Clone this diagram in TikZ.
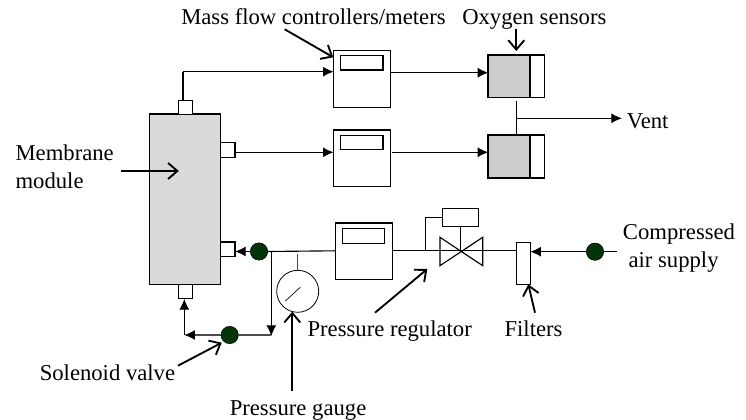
\documentclass[tikz,border=0pt]{standalone}
\usepackage{fontspec}
\setmainfont{Liberation Serif}
\usepackage{tikz}
\usetikzlibrary{arrows.meta}
\definecolor{valvegreen}{RGB}{5,51,10}
\tikzset{
  pipe/.style={line width=0.85pt},
  feed/.style={pipe,-{Latex[length=8pt,width=7.5pt,black]}},
  pointer/.style={line width=1.4pt,-{Straight Barb[length=7pt,width=12pt]}},
  label/.style={font=\fontsize{17}{19}\selectfont,inner sep=0pt,anchor=base west},
  unit/.style={draw,line width=0.85pt,inner sep=0pt,outer sep=0pt,minimum width=#1},
  port/.style={unit=10.7pt,minimum height=10.7pt,fill=white},
  flowbox/.style={unit=42.5pt,minimum height=42.5pt,fill=white},
  readout/.style={unit=32pt,minimum height=10.7pt},
  sensor/.style={unit=31.5pt,minimum height=32pt,fill=black!20,line width=1.3pt},
  sensorend/.style={unit=10.7pt,minimum height=32pt,fill=white,line width=1.3pt},
  shutoff/.style={circle,draw,line width=0.4pt,fill=valvegreen,inner sep=0pt,outer sep=0pt,minimum size=13pt}
}
\begin{document}
\begin{tikzpicture}[x=0.75pt,y=-0.75pt]
\useasboundingbox (0,0) rectangle (746,420);

% membrane module and its ports
\node [unit=53.5pt,minimum height=127.7pt,fill=black!15] (membrane) at (185,199.2) {};
\node [port] (porttop) at (185.5,107.4) {};
\node [port] (portone) at (227.9,150) {};
\node [port] (porttwo) at (227.9,249.2) {};
\node [port] (portbottom) at (185.5,291.8) {};

% flow controllers
\node [flowbox] (mfcone) at (362,78.9) {};
\node [flowbox] (mfctwo) at (362,158.4) {};
\node [flowbox] (mfcthree) at (364,251.4) {};
\node [readout] (readone) at (361.7,62.9) {};
\node [readout] (readtwo) at (361.7,142.5) {};
\node [readout,unit=31.7pt] (readthree) at (363.2,236) {};

% sensors
\node [sensor] (sensorone) at (509.3,76.2) {};
\node [sensorend,anchor=west] (sensoroneend) at (sensorone.east) {};
\node [sensor] (sensortwo) at (509.3,156.7) {};
\node [sensorend,anchor=west] (sensortwoend) at (sensortwo.east) {};

% regulator
\coordinate (valvemid) at (461.3,251);
\node [unit=26.7pt,minimum height=13.3pt] (actuator) at (460.5,217.8) {};
\draw [pipe] (440,237.3) -- (482.7,265.7) -- (482.7,237.3) -- (440,265.7) -- cycle;
\draw [pipe] (actuator.south) -- (actuator.south |- valvemid);
\coordinate (bypass) at (425.3,251);
\draw [pipe] (bypass) |- (actuator.west);

% filter
\node [unit=10.5pt,minimum height=31.5pt,fill=white] (filter) at (523.3,263.3) {};

% gauge
\node [circle,draw,line width=0.6pt,inner sep=0pt,outer sep=0pt,minimum size=31.5pt] (gauge) at (297.7,291.3) {};
\coordinate (gaugetop) at (297.7,254.3);
\coordinate (needlea) at (285.3,301);
\coordinate (needleb) at (300.3,287.3);
\draw [pipe,black!70] (gaugetop) -- (gauge.north);
\draw [line width=0.5pt] (needlea) -- (needleb);

% shut-off valves
\node [shutoff] (valveleft) at (259,251.5) {};
\node [shutoff] (valvelow) at (229.7,335) {};
\node [shutoff] (valveright) at (595,251.7) {};

% flow lines
\coordinate (topbend) at (183,71.7);
\draw [pipe] (porttop.north -| topbend) -- (topbend);
\draw [feed] (topbend) -- (topbend -| mfcone.west);
\draw [feed] (portone.east |- 0,152.3) -- (mfctwo.west |- 0,152.3);
\coordinate (outone) at (390.3,72.7);
\draw [feed] (outone) -- (outone -| sensorone.west);
\coordinate (outtwo) at (392,152.3);
\draw [feed] (outtwo) -- (outtwo -| sensortwo.west);
\coordinate (ventjoin) at (516.3,118.3);
\coordinate (ventend) at (622,118.3);
\draw [pipe] (ventjoin |- sensorone.south) ++(0,3) -- (ventjoin |- sensortwo.north);
\draw [feed] (ventjoin) -- (ventend);

\coordinate (mainjoin) at (271.3,250.8);
\coordinate (lowjoin) at (271.3,336);
\coordinate (lowbend) at (184.3,335);
\coordinate (supply) at (616.7,251.7);
\draw [pipe] (valveleft.east) -- (mfcthree.west |- mainjoin);
\draw [pipe] (mfcthree.east |- mainjoin) -- (filter.west |- mainjoin);
\draw [feed] (valveleft.west) -- (porttwo.east |- valveleft.west);
\draw [feed] (mainjoin) -- (lowjoin);
\draw [pipe,black!70] (valvelow.east) -- (valvelow.east -| lowjoin);
\draw [feed,black!70] (valvelow.west) -- (lowbend);
\draw [feed] (lowbend) -- (lowbend |- portbottom.south);
\draw [pipe] (supply) -- (valveright.east);
\draw [feed] (valveright.west) -- (filter.east |- valveright.west);

% labels
\draw (181,25) node[label] (massflow) {Mass flow controllers/meters};
\draw (462,25) node[label] (oxygen) {Oxygen sensors};
\draw (626.7,129) node[label] (vent) {Vent};
\draw (15.3,160.7) node[label] (membranea) {Membrane};
\draw (15.3,188.3) node[label] (membraneb) {module};
\draw (622.7,240) node[label] (compressed) {Compressed};
\draw (628.3,268) node[label] (airsupply) {air supply};
\draw (307.3,336.7) node[label] (regulator) {Pressure regulator};
\draw (504.3,336.7) node[label] (filters) {Filters};
\draw (39.5,380) node[label] (solenoid) {Solenoid valve};
\draw (229.5,415) node[label] (gaugetext) {Pressure gauge};

% pointers
\coordinate (massfrom) at (284.7,29.3);
\coordinate (massto) at (333.3,57.3);
\coordinate (oxyfrom) at (516.3,29);
\coordinate (oxyto) at (516.3,51);
\coordinate (memfrom) at (120.7,171);
\coordinate (memto) at (178.8,171);
\coordinate (solfrom) at (178,365.7);
\coordinate (solto) at (221.7,342.7);
\coordinate (gaugefrom) at (292.3,391);
\coordinate (gaugeto) at (292.3,311.7);
\coordinate (regfrom) at (375,312.7);
\coordinate (regto) at (427.3,269);
\coordinate (filterfrom) at (535,312.7);
\coordinate (filterto) at (528.3,284.3);
\draw [pointer] (massfrom) -- (massto);
\draw [pointer] (oxyfrom) -- (oxyto);
\draw [pointer] (memfrom) -- (memto);
\draw [pointer] (solfrom) -- (solto);
\draw [pointer] (gaugefrom) -- (gaugeto);
\draw [pointer] (regfrom) -- (regto);
\draw [pointer] (filterfrom) -- (filterto);
\end{tikzpicture}
\end{document}
